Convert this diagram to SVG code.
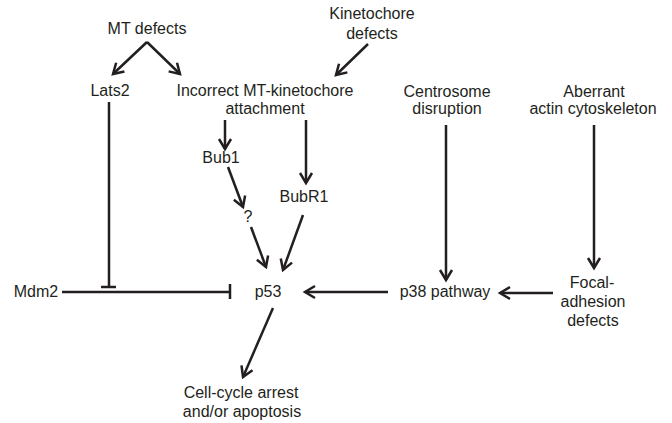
<svg xmlns="http://www.w3.org/2000/svg" width="672" height="423" viewBox="0 0 672 423">
<style>
text{font-family:"Liberation Sans",Arial,sans-serif;font-size:16px;fill:#231f20;text-anchor:middle}
.c line,.c path{stroke:#231f20;stroke-width:2.5;fill:none}
</style>
<defs>
<marker id="ah" markerUnits="userSpaceOnUse" markerWidth="20" markerHeight="20" viewBox="-12 -10 20 20" refX="0" refY="0" orient="auto">
<path d="M-10,-6 L0,0 L-10,6" stroke="#231f20" stroke-width="2.5" fill="none"/>
</marker>
</defs>
<rect width="672" height="423" fill="#fff"/>
<g id="n-mt"><text x="147" y="34">MT defects</text></g>
<g id="n-kin"><text x="372" y="19">Kinetochore</text><text x="372" y="39">defects</text></g>
<g id="n-lats2"><text x="110" y="96">Lats2</text></g>
<g id="n-attach"><text x="265" y="96">Incorrect MT-kinetochore</text><text x="265" y="114">attachment</text></g>
<g id="n-centro"><text x="447" y="97">Centrosome</text><text x="447" y="114">disruption</text></g>
<g id="n-aber"><text x="594" y="97">Aberrant</text><text x="593" y="114">actin cytoskeleton</text></g>
<g id="n-bub1"><text x="221" y="163">Bub1</text></g>
<g id="n-bubr1"><text x="304" y="202">BubR1</text></g>
<g id="n-q"><text x="248" y="222">?</text></g>
<g id="n-mdm2"><text x="36" y="297">Mdm2</text></g>
<g id="n-p53"><text x="268" y="297">p53</text></g>
<g id="n-p38"><text x="445" y="297">p38 pathway</text></g>
<g id="n-focal"><text x="592" y="288">Focal-</text><text x="593" y="307">adhesion</text><text x="593" y="326">defects</text></g>
<g id="n-cell"><text x="241" y="398">Cell-cycle arrest</text><text x="242" y="417">and/or apoptosis</text></g>
<g class="c" id="connectors">
<line x1="147" y1="42" x2="113" y2="74" marker-end="url(#ah)"/>
<line x1="147" y1="42" x2="180" y2="74" marker-end="url(#ah)"/>
<line x1="368" y1="44" x2="336" y2="75" marker-end="url(#ah)"/>
<line x1="109" y1="102" x2="109" y2="287"/>
<line x1="101" y1="287" x2="116" y2="287"/>
<line x1="62" y1="292" x2="230" y2="292"/>
<line x1="230" y1="284" x2="230" y2="299"/>
<line x1="225" y1="120" x2="225" y2="149" marker-end="url(#ah)"/>
<line x1="306" y1="120" x2="306" y2="183" marker-end="url(#ah)"/>
<line x1="228" y1="167" x2="243" y2="207" marker-end="url(#ah)"/>
<line x1="251" y1="227" x2="266" y2="267" marker-end="url(#ah)"/>
<line x1="303" y1="215" x2="283" y2="270" marker-end="url(#ah)"/>
<line x1="388" y1="292" x2="305" y2="292" marker-end="url(#ah)"/>
<line x1="446" y1="125" x2="446" y2="280" marker-end="url(#ah)"/>
<line x1="594" y1="125" x2="594" y2="268" marker-end="url(#ah)"/>
<line x1="553" y1="293" x2="500" y2="293" marker-end="url(#ah)"/>
<line x1="273" y1="308" x2="243" y2="377" marker-end="url(#ah)"/>
</g>
</svg>
